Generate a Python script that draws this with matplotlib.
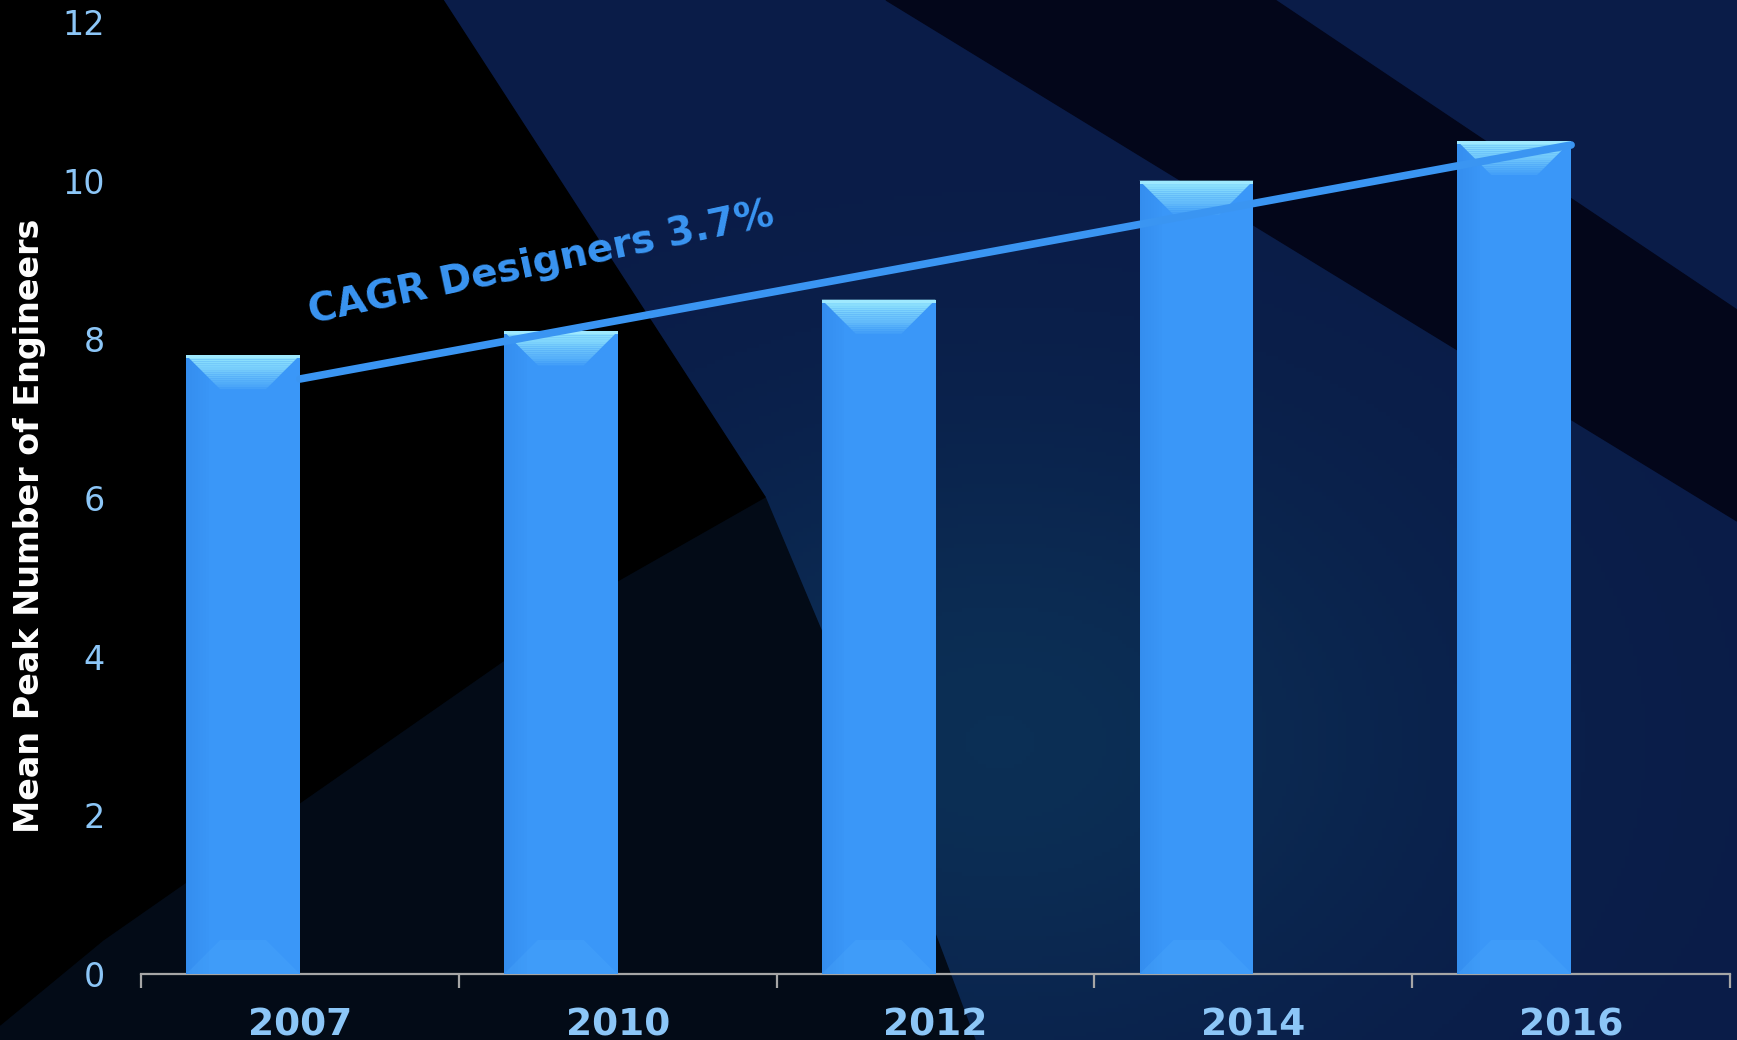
import numpy as np
import matplotlib.pyplot as plt
from matplotlib.patches import Polygon, Rectangle
from matplotlib.colors import to_rgb

years = ["2007", "2010", "2012", "2014", "2016"]
engineers = [7.8, 8.1, 8.5, 10.0, 10.5]
y_ticks = [0, 2, 4, 6, 8, 10, 12]
cagr_label = "CAGR Designers 3.7%"
cagr_start, cagr_end = 7.5, 10.45

W, H = 1737, 1040
BAR = "#3a97f8"
LABEL_BLUE = "#8cc6f7"
LINE_BLUE = "#3a95f2"

fig = plt.figure(figsize=(W / 100, H / 100), dpi=100)
fig.patch.set_facecolor("#0a1c48")

# backdrop in pixel units (y grows downward)
bg = fig.add_axes([0, 0, 1, 1], zorder=0)
bg.set_facecolor("#0a1c48")
bg.axis("off")

yy, xx = np.mgrid[0:H:4, 0:W:4]
r = np.hypot((xx - 1000) / 430, (yy - 740) / 320)
glow = np.zeros(xx.shape + (4,))
glow[..., :3] = to_rgb("#0d3c5e")
glow[..., 3] = 0.6 * np.exp(-r ** 2)
bg.imshow(glow, extent=(0, W, H, 0), aspect="auto", zorder=1)

# dark wedge across the upper right
bg.add_patch(Polygon([(886, 0), (1275, 0), (W, 310), (W, 521)],
                     closed=True, color="#03061a", zorder=2))
# near-black band in the lower left
bg.add_patch(Polygon([(0, 1025), (103, 940), (619, 580), (765, 497), (821, 630),
                      (975, H), (0, H)], closed=True, color="#030b17", zorder=3))
# black corner on the left
bg.add_patch(Polygon([(0, 0), (443, 0), (765, 497), (619, 580), (103, 940), (0, 1025)],
                     closed=True, color="#000000", zorder=4))
bg.set_xlim(0, W)
bg.set_ylim(H, 0)

left, right, top, bottom = 141, 1730, 22, 974
ax = fig.add_axes([left / W, 1 - bottom / H, (right - left) / W, (bottom - top) / H], zorder=2)
ax.set_facecolor("none")
ax.set_xlim(-0.5, len(years) - 0.5)
ax.set_ylim(0, 12)

ppx = (right - left) / len(years)
ppy = (bottom - top) / 12.0

x = np.arange(len(years))
bw = 0.358
bars = ax.bar(x - bw / 2, engineers, width=bw, color=BAR, linewidth=0, zorder=3)

c_bar = np.array(to_rgb(BAR))
c_top = np.array(to_rgb("#93e6fd"))
c_dark = np.array(to_rgb("#2b7fe0"))
bev = 34  # bevel depth in pixels
dx, dy = bev / ppx, bev / ppy
n = 16
for b in bars:
    x0, w, h = b.get_x(), b.get_width(), b.get_height()
    x1 = x0 + w
    # darker shading along the left edge
    for i in range(8):
        f = 1 - i / 8
        ax.add_patch(Rectangle((x0 + i * w * 0.025, 0), w * 0.025, h, linewidth=0,
                               color=c_dark, alpha=0.35 * f, zorder=3.1))
    # lighter wedge at the foot
    ax.add_patch(Polygon([(x0, 0), (x1, 0), (x1 - dx, dy), (x0 + dx, dy)], closed=True,
                         color="#52b0ff", alpha=0.22, linewidth=0, zorder=3.2))
    # bevelled top face
    for i in range(n):
        t0, t1 = i / n, (i + 1) / n
        col = c_top * (1 - t0) ** 0.8 + c_bar * (1 - (1 - t0) ** 0.8)
        ax.add_patch(Polygon([(x0 + t0 * dx, h - t0 * dy), (x1 - t0 * dx, h - t0 * dy),
                              (x1 - t1 * dx, h - t1 * dy), (x0 + t1 * dx, h - t1 * dy)],
                             closed=True, color=col, linewidth=0, zorder=3.3))
    ax.add_patch(Rectangle((x0, h - 3 / ppy), w, 3 / ppy, color="#9fe9fe",
                           linewidth=0, zorder=3.4))

ax.plot([x[0], x[-1]], [cagr_start, cagr_end], color=LINE_BLUE, lw=5.5,
        solid_capstyle="round", zorder=5)
ax.text(0.035, 8.2, cagr_label, rotation=12, rotation_mode="anchor", ha="left",
        va="baseline", fontsize=28, fontweight="bold", color=LINE_BLUE, zorder=6)

for s in ["left", "top", "right"]:
    ax.spines[s].set_visible(False)
ax.spines["bottom"].set_color("#a6a6a6")
ax.spines["bottom"].set_linewidth(1.6)

ax.set_xticks(np.arange(-0.5, len(years)))
ax.set_xticklabels([])
ax.tick_params(axis="x", which="major", direction="out", length=10, width=1.6, color="#a6a6a6")
ax.set_xticks(x, minor=True)
ax.set_xticklabels(years, minor=True, fontsize=27, fontweight="bold", color=LABEL_BLUE)
ax.tick_params(axis="x", which="minor", length=0, pad=24)

ax.set_yticks(y_ticks)
ax.set_yticklabels([str(v) for v in y_ticks], fontsize=24, color=LABEL_BLUE)
ax.tick_params(axis="y", length=0, pad=26)

fig.text(30 / W, 1 - 526 / H, "Mean Peak Number of Engineers", rotation=90,
         ha="center", va="center", fontsize=24, fontweight="bold", color="white")

fig.savefig("out.png", dpi=100, facecolor=fig.get_facecolor())
